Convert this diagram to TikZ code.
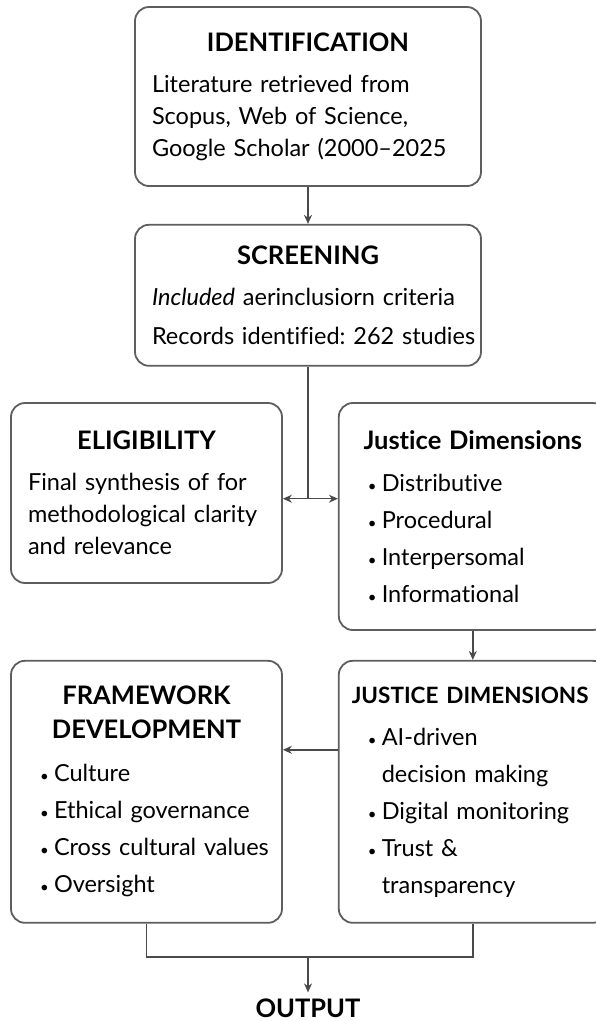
\documentclass[tikz,border=0pt]{standalone}
\usepackage{fontspec}
\setmainfont{Lato}[Ligatures={TeX,NoCommon}]
\usetikzlibrary{positioning, arrows.meta}
\setlength{\parindent}{0pt}
\frenchspacing
\definecolor{borde}{HTML}{5E5E5E}
\definecolor{trazo}{HTML}{4A4A4A}
\newcommand{\Titulo}[2][0pt]{{\fontsize{25.5}{34}\selectfont\bfseries\noindent\makebox[\linewidth]{#2}\par}\vspace{#1}}
\newcommand{\Vineta}[1]{\mbox{\makebox[14pt][l]{\fontsize{15}{15}\selectfont\textbullet}#1}}
\newcommand{\Sangria}{\hspace*{14pt}}
\tikzstyle{flecha} = [line width=1.4pt, draw=trazo, ->, >={Stealth[length=9pt,width=8pt]}]
\tikzstyle{tramo} = [line width=1.4pt, draw=trazo]
\tikzstyle{caja} = [rectangle,
                    rounded corners=14pt,
                    draw=borde,
                    line width=1.8pt,
                    fill=white,
                    align=left,
                    inner xsep=17pt,
                    inner ysep=0pt,
                    font=\fontsize{23.5}{32}\selectfont]
\tikzstyle{cajaancha} = [caja, text width=312pt, minimum width=346pt]
\tikzstyle{cajaizq} = [caja, text width=237pt, minimum width=271pt]
\tikzstyle{lista} = [caja, inner xsep=29pt, font=\fontsize{23.5}{37}\selectfont]

\begin{document}
\begin{tikzpicture}[x=1pt, y=1pt]
        \useasboundingbox (0,0) rectangle (595,-1021);

        \node (Identificacion) [cajaancha, minimum height=179pt] at (308,-96.5)
            {\Titulo[9pt]{IDENTIFICATION}Literature retrieved from\\
             Scopus, Web of Science,\\
             \mbox{Google Scholar (2000--2025}};
        \node (Seleccion) [cajaancha, minimum height=141pt, below=37pt of Identificacion,
            font=\fontsize{23.5}{39}\selectfont]
            {\Titulo[2pt]{SCREENING}\mbox{\textit{Included} aerinclusiorn criteria}\\
             \mbox{Records identified: 262 studies}};
        \node (Elegibilidad) [cajaizq, minimum height=180pt] at (146.5,-493)
            {\Titulo[9pt]{ELIGIBILITY}Final synthesis of for\\
             \mbox{methodological clarity}\\
             and relevance};
        \node (Justicia) [lista, text width=210pt, minimum width=268pt, minimum height=227pt,
            right=55pt of Elegibilidad.north east, anchor=north west]
            {\Titulo[5pt]{Justice Dimensions}\Vineta{Distributive}\\
             \Vineta{Procedural}\\
             \Vineta{Interpersomal}\\
             \Vineta{Informational}};
        \node (Marco) [lista, text width=213pt, minimum width=271pt, minimum height=262pt,
            below=76pt of Elegibilidad.south west, anchor=north west]
            {\Titulo{FRAMEWORK}\Titulo[6pt]{DEVELOPMENT}\Vineta{Culture}\\
             \Vineta{Ethical governance}\\
             \Vineta{Cross cultural values}\\
             \Vineta{Oversight}};
        \node (Dimensiones) [lista, text width=210pt, minimum width=268pt, minimum height=262pt,
            right=55pt of Marco.north east, anchor=north west]
            {\Titulo[5pt]{\makebox[\linewidth][l]{\hspace*{-16pt}\fontsize{22.5}{34}\selectfont JUSTICE DIMENSIONS}}\Vineta{AI-driven}\\
             \Sangria decision making\\
             \Vineta{Digital monitoring}\\
             \Vineta{Trust \&}\\
             \Sangria transparency};
        \node (Salida) [font=\fontsize{25.5}{30}\selectfont\bfseries, inner sep=6pt] at (308,-1008) {OUTPUT};

        \coordinate (cruce) at ([yshift=-132pt]Seleccion.south);
        \coordinate (union) at (308,-957);

        \draw [flecha] (Identificacion) -- (Seleccion);
        \draw [tramo] (Seleccion) -- (cruce);
        \draw [flecha] (cruce) -- (cruce -| Elegibilidad.east);
        \draw [flecha] (cruce) -- (cruce -| Justicia.west);
        \draw [flecha] (Justicia) -- (Dimensiones);
        \draw [flecha] ([yshift=42pt]Dimensiones.west) -- ([yshift=42pt]Marco.east);
        \draw [tramo] (Marco.south) |- (union) -| (Dimensiones.south);
        \draw [flecha] (union) -- (Salida);
    \end{tikzpicture}
\end{document}
